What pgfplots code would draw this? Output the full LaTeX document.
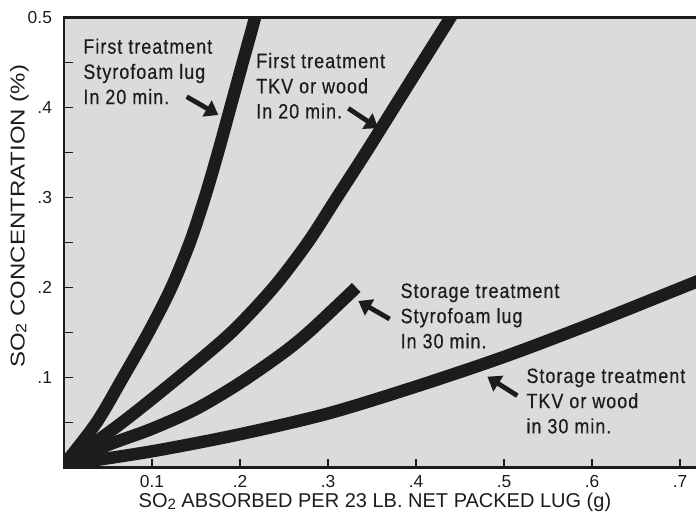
\documentclass[border=0pt]{standalone}
\usepackage{pgfplots}
\pgfplotsset{compat=1.18}
\usepackage{fontspec}
\setmainfont{Liberation Sans}
\newfontfamily\cond{Liberation Sans}[FakeStretch=0.86, LetterSpace=5, FakeBold=0.4]
\newfontfamily\wide{Liberation Sans}[FakeStretch=1.2]
\usetikzlibrary{arrows.meta}
\definecolor{bggray}{RGB}{219,219,219}
\definecolor{ink}{RGB}{28,28,28}
\newcommand{\SOtwo}{SO\raisebox{-0.15ex}{\fontsize{7.5}{8}\selectfont 2}}
\begin{document}
\begin{tikzpicture}
\begin{axis}[
  scale only axis, width=316pt, height=225pt,
  xmin=0, xmax=0.718, ymin=0, ymax=0.5,
  axis background/.style={fill=bggray},
  axis line style={draw=none},
  clip mode=individual,
  xtick={0.1,0.2,0.3,0.4,0.5,0.6,0.7},
  xticklabels={0.1,.2,.3,.4,.5,.6,.7},
  ytick={0.1,0.2,0.3,0.4,0.5},
  yticklabels={.1,.2,.3,.4,0.5},
  minor ytick={0.05,0.15,0.25,0.35,0.45},
  tick align=inside, xtick pos=left, ytick pos=left,
  major tick length=4.5pt, minor tick length=4.5pt,
  tick style={line width=0.9pt, color=ink},
  ticklabel style={font=\fontsize{8.7}{10}\selectfont, text=ink},
  xticklabel style={yshift=-0.5pt},
  yticklabel style={xshift=-2.5pt},
  xlabel={\SOtwo{} ABSORBED PER 23 LB. NET PACKED LUG (g)},
  ylabel={\wide\SOtwo{} CONCENTRATION (\%)},
  label style={font=\fontsize{10}{12}\selectfont, text=ink},
  xlabel style={at={(axis description cs:0.492,-0.078)}, anchor=center},
  ylabel style={at={(axis description cs:-0.0704,0.558)}, anchor=center},
]
% First treatment, Styrofoam lug, 20 min
\addplot[ink, line width=6.2pt, smooth] coordinates {
 (0.000,0.003) (0.037,0.050) (0.067,0.100) (0.096,0.150) (0.122,0.200)
 (0.143,0.250) (0.160,0.300) (0.175,0.350) (0.189,0.400) (0.203,0.450)
 (0.217,0.500) (0.222,0.525)};
% First treatment, TKV or wood, 20 min
\addplot[ink, line width=6.2pt, smooth] coordinates {
 (0.000,0.003) (0.066,0.050) (0.130,0.100) (0.190,0.150) (0.238,0.200)
 (0.277,0.250) (0.310,0.300) (0.343,0.350) (0.375,0.400) (0.407,0.450)
 (0.439,0.500) (0.451,0.520)};
% Storage treatment, Styrofoam lug, 30 min
\addplot[ink, line width=6.2pt, smooth, line cap=butt] coordinates {
 (0.000,0.003) (0.050,0.025) (0.100,0.043) (0.150,0.065) (0.200,0.094)
 (0.250,0.128) (0.281,0.153) (0.332,0.200)};
% Storage treatment, TKV or wood, 30 min
\addplot[ink, line width=6.2pt, smooth] coordinates {
 (0.000,0.003) (0.100,0.018) (0.200,0.037) (0.300,0.060) (0.400,0.090)
 (0.500,0.123) (0.600,0.160) (0.730,0.211)};
% arrows
\tikzset{arr/.style={ink, line width=2.4pt, -{Triangle[length=6.5pt,width=9pt]}}}
\draw[arr] (axis cs:0.1394,0.412) -- (axis cs:0.1753,0.3917);
\draw[arr] (axis cs:0.323,0.399) -- (axis cs:0.357,0.377);
\draw[arr] (axis cs:0.370,0.165) -- (axis cs:0.3344,0.185);
\draw[arr] (axis cs:0.515,0.0798) -- (axis cs:0.481,0.1009);
% labels
\tikzset{lab/.style={anchor=north west, align=left, inner sep=0pt, text=ink, font=\cond\fontsize{10.4}{12.6}\selectfont}}
\node[lab] at (axis cs:0.0216,0.477) {First treatment\\Styrofoam lug\\In 20 min.};
\node[lab] at (axis cs:0.218,0.461) {First treatment\\TKV or wood\\In 20 min.};
\node[lab] at (axis cs:0.382,0.205) {Storage treatment\\Styrofoam lug\\In 30 min.};
\node[lab] at (axis cs:0.525,0.1105) {Storage treatment\\TKV or wood\\in 30 min.};
% frame: left, top, bottom
\draw[ink, line width=1.3pt] (rel axis cs:1,1) -- (rel axis cs:0,1) -- (rel axis cs:0,0) -- (rel axis cs:1,0);
\coordinate (ll) at (rel axis cs:0,0);
\coordinate (ur) at (rel axis cs:1,1);
\end{axis}
\pgfresetboundingbox
\path ([xshift=-32pt,yshift=-23.25pt]ll) rectangle ([yshift=8.75pt]ur);
\end{tikzpicture}
\end{document}
